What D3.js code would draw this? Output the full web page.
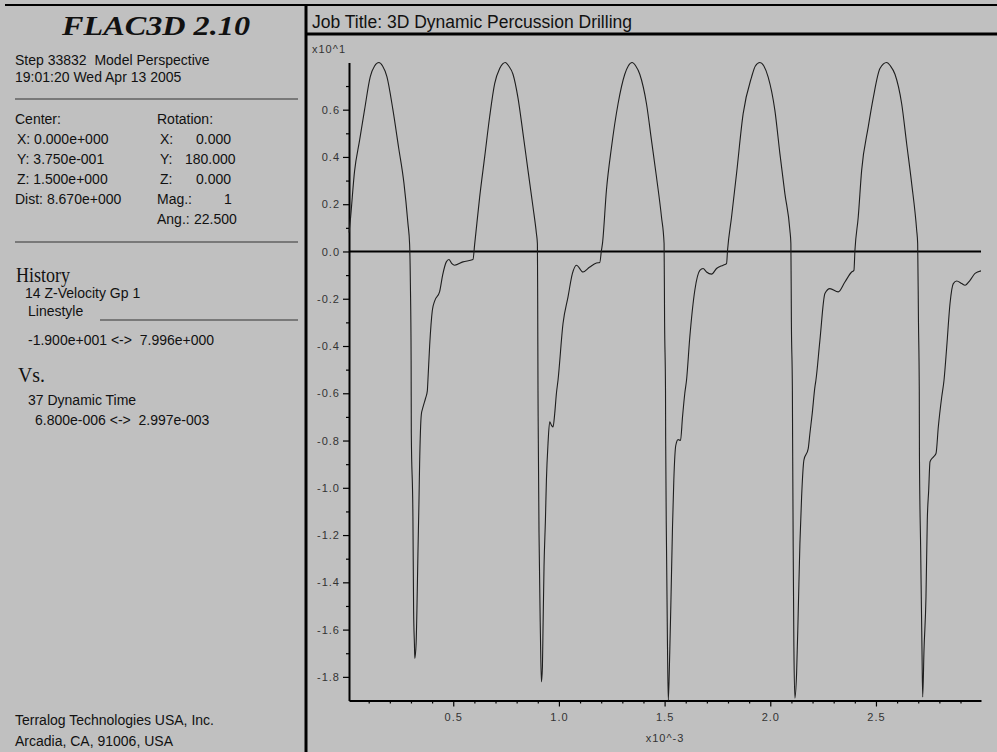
<!DOCTYPE html>
<html>
<head>
<meta charset="utf-8">
<script src="https://cdn.jsdelivr.net/npm/d3@7"></script>
<style>
  html, body { margin: 0; padding: 0; background: #c0c0c0; }
  svg { display: block; }
  text { white-space: pre; }
</style>
</head>
<body>
<svg id="plot" width="997" height="752"></svg>
<script>
// History 37: dynamic time (x10^-3 s)
const dynamicTime = [
  // cycle 1
  0.0068, 0.0128, 0.0331, 0.0568, 0.0805, 0.1075, 0.1278, 0.1482, 0.1657, 0.1861,
  0.2145, 0.2415, 0.2666, 0.2855, 0.2936, 0.2973, 0.3007, 0.3016, 0.3092, 0.3125,
  0.3163, 0.3182, 0.3243, 0.3281, 0.3329, 0.3376, 0.3409, 0.3490, 0.3565, 0.3693,
  0.3774, 0.3802, 0.3883, 0.4010, 0.4119, 0.4356, 0.4498, 0.4673, 0.4796, 0.4924,
  0.5066, 0.5459, 0.5933, 0.6013, 0.6250, 0.6487, 0.6723, 0.6960, 0.7197, 0.7467,
  // cycle 2
  0.7623, 0.7827, 0.8063, 0.8300, 0.8537, 0.8774, 0.8935, 0.8982, 0.8996, 0.9010,
  0.9020, 0.9058, 0.9124, 0.9171, 0.9219, 0.9247, 0.9295, 0.9361, 0.9408, 0.9484,
  0.9564, 0.9645, 0.9721, 0.9801, 0.9882, 0.9957, 1.0194, 1.0431, 1.0639, 1.0829,
  1.1141, 1.1458, 1.1776, 1.1932, 1.2012, 1.2060, 1.2249, 1.2486, 1.2798, 1.3116,
  1.3281, 1.3461,
  // cycle 3
  1.3636, 1.3826, 1.4143, 1.4380, 1.4616, 1.4853, 1.4976, 1.5000, 1.5043, 1.5050,
  1.5090, 1.5137, 1.5175, 1.5246, 1.5294, 1.5374, 1.5436, 1.5530, 1.5639, 1.5753,
  1.5848, 1.5956, 1.6037, 1.6193, 1.6430, 1.6667, 1.6823, 1.6984, 1.7221, 1.7457,
  1.7770, 1.7931, 1.7978, 1.8168, 1.8404, 1.8717, 1.9115, 1.9295, 1.9508,
  // cycle 4
  1.9697, 1.9901, 2.0218, 2.0455, 2.0691, 2.0928, 2.0975, 2.0999, 2.1046, 2.1056,
  2.1084, 2.1117, 2.1165, 2.1245, 2.1321, 2.1402, 2.1482, 2.1591, 2.1795, 2.1875,
  2.1984, 2.2112, 2.2159, 2.2348, 2.2585, 2.2822, 2.3215, 2.3532, 2.3849, 2.3958,
  2.4006, 2.4162, 2.4323, 2.4635, 2.4872, 2.5189, 2.5507,
  // cycle 5
  2.5687, 2.5900, 2.6217, 2.6453, 2.6690, 2.6927, 2.6974, 2.7012, 2.7050, 2.7058,
  2.7116, 2.7178, 2.7211, 2.7273, 2.7367, 2.7429, 2.7495, 2.7557, 2.7713, 2.7841,
  2.7950, 2.8111, 2.8220, 2.8348, 2.8504, 2.8660, 2.8821, 2.9058, 2.9214, 2.9451,
  2.9688, 2.9970
];

// History 14: Z-velocity of gridpoint 1 (x10^1)
const zVelocity = [
  // cycle 1
  0.080, 0.130, 0.340, 0.470, 0.600, 0.740, 0.785, 0.7996, 0.785, 0.740,
  0.600, 0.440, 0.290, 0.120, 0.030, -0.140, -0.460, -0.770, -1.120, -1.520,
  -1.660, -1.722, -1.660, -1.520, -1.280, -1.070, -0.900, -0.690, -0.660, -0.620,
  -0.590, -0.545, -0.400, -0.250, -0.210, -0.170, -0.100, -0.044, -0.034, -0.050,
  -0.058, -0.044, -0.034, 0.030, 0.230, 0.400, 0.570, 0.710, 0.774, 0.7996,
  // cycle 2
  0.785, 0.750, 0.650, 0.500, 0.343, 0.188, 0.076, 0.033, -0.220, -0.590,
  -0.740, -1.190, -1.617, -1.821, -1.758, -1.600, -1.335, -1.137, -0.968, -0.813,
  -0.721, -0.735, -0.743, -0.686, -0.600, -0.545, -0.305, -0.192, -0.093, -0.058,
  -0.087, -0.066, -0.049, -0.047, 0.005, 0.033, 0.260, 0.440, 0.625, 0.750,
  0.785, 0.7996,
  // cycle 3
  0.785, 0.750, 0.625, 0.470, 0.315, 0.146, 0.033, -0.300, -0.587, -0.785,
  -1.250, -1.673, -1.900, -1.687, -1.504, -1.166, -0.968, -0.820, -0.796, -0.800,
  -0.700, -0.600, -0.545, -0.362, -0.164, -0.080, -0.072, -0.087, -0.096, -0.072,
  -0.058, -0.051, 0.005, 0.146, 0.330, 0.583, 0.738, 0.785, 0.7996,
  // cycle 4
  0.785, 0.738, 0.597, 0.414, 0.245, 0.090, 0.033, -0.300, -0.587, -0.785,
  -1.250, -1.673, -1.890, -1.786, -1.532, -1.236, -1.039, -0.883, -0.834, -0.770,
  -0.686, -0.573, -0.545, -0.376, -0.178, -0.157, -0.171, -0.129, -0.087, -0.080,
  0.005, 0.146, 0.343, 0.527, 0.650, 0.774, 0.7996,
  // cycle 5
  0.785, 0.750, 0.625, 0.456, 0.287, 0.090, 0.033, -0.300, -0.587, -0.870,
  -1.264, -1.687, -1.885, -1.687, -1.461, -1.137, -1.010, -0.890, -0.870, -0.855,
  -0.743, -0.616, -0.545, -0.404, -0.220, -0.136, -0.125, -0.136, -0.143, -0.122,
  -0.093, -0.082
];

// Plot ranges as listed in the legend
const yRange = [-1.900, 0.7996];   // -1.900e+001 <-> 7.996e+000
const xRange = [0.0068, 2.997];    // 6.800e-006 <-> 2.997e-003

const yMajorTicks = [-1.8, -1.6, -1.4, -1.2, -1.0, -0.8, -0.6, -0.4, -0.2, 0.0, 0.2, 0.4, 0.6];
const yMinorTicks = [-1.7, -1.5, -1.3, -1.1, -0.9, -0.7, -0.5, -0.3, -0.1, 0.1, 0.3, 0.5, 0.7];
const xMajorTicks = [0.5, 1.0, 1.5, 2.0, 2.5];
const xMinorTicks = [0.1, 0.2, 0.3, 0.4, 0.6, 0.7, 0.8, 0.9, 1.1, 1.2, 1.3, 1.4,
                     1.6, 1.7, 1.8, 1.9, 2.1, 2.2, 2.3, 2.4, 2.6, 2.7, 2.8, 2.9];

const yUnitLabel = "x10^1";
const xUnitLabel = "x10^-3";

const SANS = "'Liberation Sans', Arial, Helvetica, sans-serif";
const SERIF = "'Liberation Serif', 'Times New Roman', Times, serif";

const svg = d3.select("#plot");

svg.append("rect").attr("width", 997).attr("height", 752).attr("fill", "#c0c0c0");

// ---- frame ----
svg.append("line").attr("x1", 5).attr("x2", 997).attr("y1", 5).attr("y2", 5)
  .attr("stroke", "#000").attr("stroke-width", 2);
svg.append("line").attr("x1", 306).attr("x2", 306).attr("y1", 4).attr("y2", 752)
  .attr("stroke", "#000").attr("stroke-width", 3);
svg.append("line").attr("x1", 306).attr("x2", 997).attr("y1", 34).attr("y2", 34)
  .attr("stroke", "#000").attr("stroke-width", 3);

// ---- left information panel ----
const panel = svg.append("g").attr("fill", "#111").attr("font-family", SANS).attr("font-size", "14px");

svg.append("text").attr("x", 62).attr("y", 35)
  .attr("font-family", SERIF).attr("font-weight", "bold").attr("font-style", "italic")
  .attr("font-size", "28px").attr("fill", "#111")
  .attr("textLength", 188).attr("lengthAdjust", "spacingAndGlyphs")
  .text("FLAC3D 2.10");

const infoLines = [
  ["Step 33832  Model Perspective", 15, 65],
  ["19:01:20 Wed Apr 13 2005", 15, 82],
  ["Center:", 15, 124],
  ["X: 0.000e+000", 17, 144],
  ["Y: 3.750e-001", 17, 164],
  ["Z: 1.500e+000", 17, 184],
  ["Dist: 8.670e+000", 15, 204],
  ["Rotation:", 157, 124],
  ["X:", 160, 144], ["0.000", 196, 144],
  ["Y:", 160, 164], ["180.000", 185, 164],
  ["Z:", 160, 184], ["0.000", 196, 184],
  ["Mag.:", 157, 204], ["1", 224, 204],
  ["Ang.:", 157, 224], ["22.500", 194, 224],
  ["14 Z-Velocity Gp 1", 25, 298],
  ["Linestyle", 28, 316],
  ["-1.900e+001 <->  7.996e+000", 28, 345],
  ["37 Dynamic Time", 28, 405],
  ["6.800e-006 <->  2.997e-003", 35, 425],
  ["Terralog Technologies USA, Inc.", 15, 725],
  ["Arcadia, CA, 91006, USA", 15, 746]
];
panel.selectAll("text.info").data(infoLines).join("text")
  .attr("class", "info")
  .attr("x", d => d[1])
  .attr("y", d => d[2])
  .text(d => d[0]);

const headings = [["History", 16, 282, 54], ["Vs.", 18, 382, 27]];
svg.selectAll("text.heading").data(headings).join("text")
  .attr("class", "heading")
  .attr("x", d => d[1]).attr("y", d => d[2])
  .attr("font-family", SERIF).attr("font-size", "22px").attr("fill", "#111")
  .attr("textLength", d => d[3]).attr("lengthAdjust", "spacingAndGlyphs")
  .text(d => d[0]);

const separators = [[15, 298, 99], [15, 298, 242], [100, 298, 320]];
svg.selectAll("line.sep").data(separators).join("line")
  .attr("class", "sep")
  .attr("x1", d => d[0]).attr("x2", d => d[1])
  .attr("y1", d => d[2]).attr("y2", d => d[2])
  .attr("stroke", "#333").attr("stroke-width", 1);

// ---- job title ----
svg.append("text").attr("x", 312).attr("y", 28)
  .attr("font-family", SANS).attr("font-size", "17.5px").attr("fill", "#111")
  .attr("textLength", 320).attr("lengthAdjust", "spacing")
  .text("Job Title: 3D Dynamic Percussion Drilling");

// ---- history plot ----
const x = d3.scaleLinear().domain(xRange).range([349, 981]);
const y = d3.scaleLinear().domain(yRange).range([700.5, 62.5]);

const tickFont = g => g.selectAll("text")
  .attr("font-family", SANS).attr("font-size", "11px")
  .attr("letter-spacing", "1px").attr("fill", "#333");

// y axis
const yAxisG = svg.append("g").attr("transform", `translate(${x.range()[0]},0)`);
yAxisG.call(d3.axisLeft(y).tickValues(yMajorTicks).tickSize(6).tickSizeOuter(0)
  .tickPadding(3).tickFormat(d => d.toFixed(1)))
  .call(tickFont);
yAxisG.append("g").call(d3.axisLeft(y).tickValues(yMinorTicks).tickSize(3)
  .tickSizeOuter(0).tickFormat(""))
  .call(g => g.select(".domain").remove());
yAxisG.selectAll(".tick line").attr("stroke", "#000").attr("stroke-width", 1.2);
yAxisG.select(".domain").attr("stroke", "#000").attr("stroke-width", 2);

// x axis
const xAxisG = svg.append("g").attr("transform", `translate(0,${y.range()[0]})`);
xAxisG.call(d3.axisBottom(x).tickValues(xMajorTicks).tickSize(6).tickSizeOuter(0)
  .tickPadding(7).tickFormat(d => d.toFixed(1)))
  .call(tickFont);
xAxisG.append("g").call(d3.axisBottom(x).tickValues(xMinorTicks).tickSize(3)
  .tickSizeOuter(0).tickFormat(""))
  .call(g => g.select(".domain").remove());
xAxisG.selectAll(".tick line").attr("stroke", "#000").attr("stroke-width", 1.2);
xAxisG.select(".domain").attr("stroke", "#000").attr("stroke-width", 2);

// multiplier labels
svg.append("text").attr("x", 312).attr("y", 53)
  .attr("font-family", SANS).attr("font-size", "11px").attr("letter-spacing", "1px")
  .attr("fill", "#333").text(yUnitLabel);
svg.append("text").attr("x", (x.range()[0] + x.range()[1]) / 2).attr("y", 742)
  .attr("text-anchor", "middle")
  .attr("font-family", SANS).attr("font-size", "11px").attr("letter-spacing", "1px")
  .attr("fill", "#333").text(xUnitLabel);

// zero reference line
svg.append("line")
  .attr("x1", x(xRange[0])).attr("x2", x(xRange[1]))
  .attr("y1", y(0)).attr("y2", y(0))
  .attr("stroke", "#000").attr("stroke-width", 2);

// velocity history curve
const samples = d3.zip(dynamicTime, zVelocity);
svg.append("path")
  .datum(samples)
  .attr("fill", "none")
  .attr("stroke", "#1e1e1e")
  .attr("stroke-width", 1.1)
  .attr("d", d3.line()
    .x(d => x(d[0]))
    .y(d => y(d[1]))
    .curve(d3.curveMonotoneX));
</script>
</body>
</html>
